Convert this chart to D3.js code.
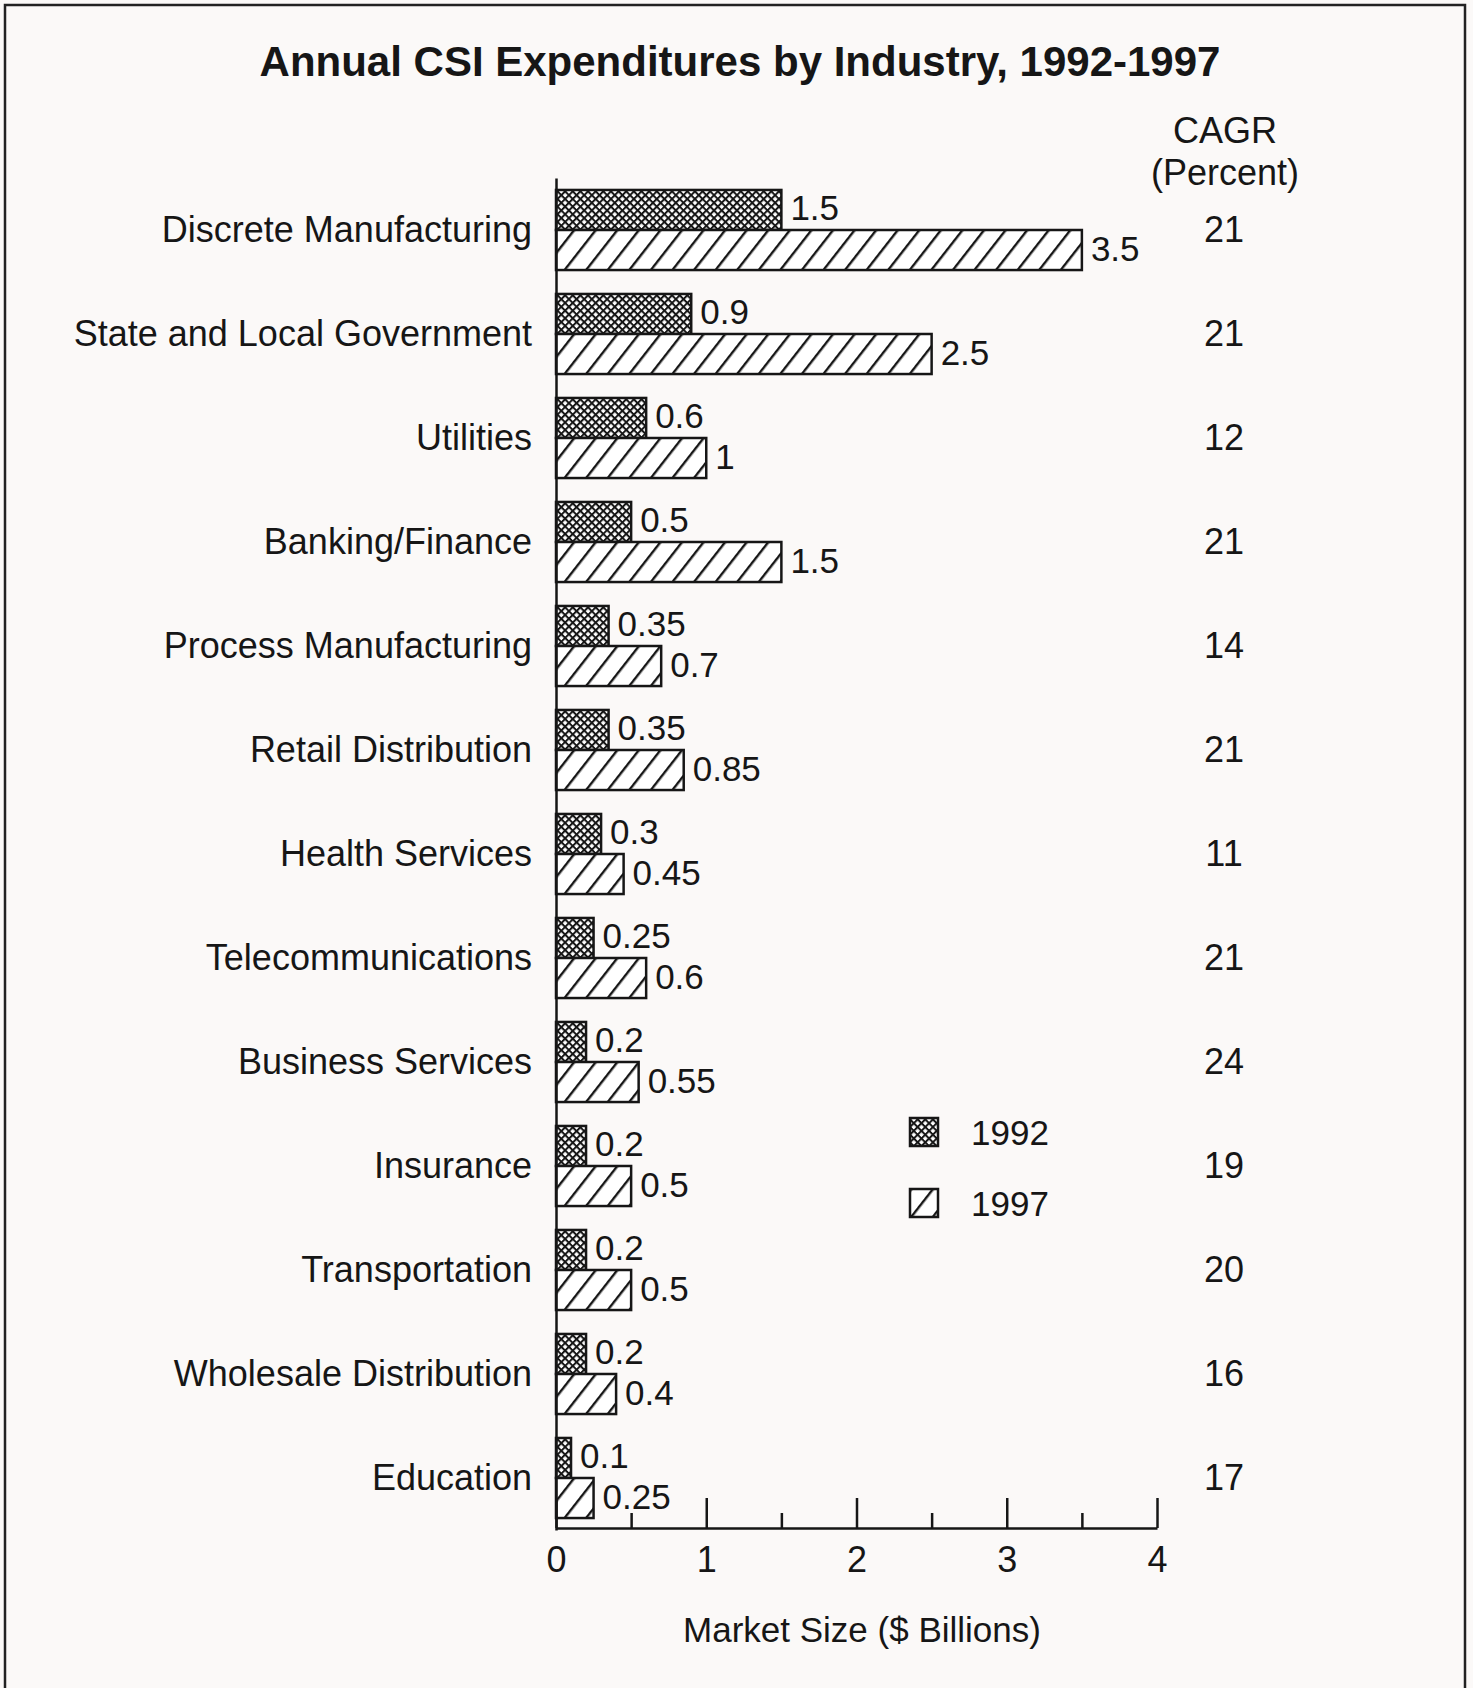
<!DOCTYPE html>
<html>
<head>
<meta charset="utf-8">
<script src="https://cdn.jsdelivr.net/npm/d3@7/dist/d3.min.js"></script>
<style>
  html, body { margin: 0; padding: 0; background: #fbf9f8; }
  svg text { font-family: "Liberation Sans", Arial, Helvetica, sans-serif; fill: #161616; }
</style>
</head>
<body>
<div id="chart"></div>
<script>
'use strict';

// industries, top to bottom
const industries = [
  'Discrete Manufacturing', 'State and Local Government', 'Utilities',
  'Banking/Finance', 'Process Manufacturing', 'Retail Distribution',
  'Health Services', 'Telecommunications', 'Business Services',
  'Insurance', 'Transportation', 'Wholesale Distribution', 'Education'
];
const years = ['1992', '1997'];
const values1992 = [1.5, 0.9, 0.6, 0.5, 0.35, 0.35, 0.3, 0.25, 0.2, 0.2, 0.2, 0.2, 0.1];
const values1997 = [3.5, 2.5, 1, 1.5, 0.7, 0.85, 0.45, 0.6, 0.55, 0.5, 0.5, 0.4, 0.25];
const cagr = [21, 21, 12, 21, 14, 21, 11, 21, 24, 19, 20, 16, 17];
const majorTicks = [0, 1, 2, 3, 4];
const minorTicks = [0.5, 1.5, 2.5, 3.5];

const width = 1473, height = 1688;
const ink = '#161616';

const svg = d3.select('#chart')
  .append('svg')
    .attr('width', width)
    .attr('height', height);

// page frame (open at the bottom)
svg.append('path')
    .attr('d', `M5,${height} V5 H1465 V${height}`)
    .attr('fill', 'none')
    .attr('stroke', '#222')
    .attr('stroke-width', 2.5);

// fill patterns
const defs = svg.append('defs');
const cross = defs.append('pattern')
    .attr('id', 'p1992')
    .attr('patternUnits', 'userSpaceOnUse')
    .attr('width', 5.4)
    .attr('height', 5.4)
    .attr('patternTransform', 'rotate(45)');
cross.append('rect').attr('width', 5.4).attr('height', 5.4).attr('fill', '#fff');
cross.append('rect').attr('width', 2).attr('height', 5.4).attr('fill', ink);
cross.append('rect').attr('width', 5.4).attr('height', 2).attr('fill', ink);

const hatch = defs.append('pattern')
    .attr('id', 'p1997')
    .attr('patternUnits', 'userSpaceOnUse')
    .attr('width', 17)
    .attr('height', 10)
    .attr('patternTransform', 'rotate(38)');
hatch.append('rect').attr('width', 17).attr('height', 10).attr('fill', '#fff');
hatch.append('rect').attr('width', 2.4).attr('height', 10).attr('fill', ink);

const fills = { '1992': 'url(#p1992)', '1997': 'url(#p1997)' };

// scales
const x = d3.scaleLinear().domain([0, 4]).range([556, 1157]);
const y = d3.scaleBand()
    .domain(industries)
    .range([178, 1530])
    .paddingInner(0.23)
    .paddingOuter(0.115);
const ySub = d3.scaleBand().domain(years).range([0, y.bandwidth()]);

// title
svg.append('text')
    .attr('x', 740)
    .attr('y', 76)
    .attr('text-anchor', 'middle')
    .attr('font-size', 42)
    .attr('font-weight', 'bold')
    .text('Annual CSI Expenditures by Industry, 1992-1997');

// CAGR header
svg.append('text')
    .attr('x', 1225).attr('y', 143)
    .attr('text-anchor', 'middle').attr('font-size', 36)
    .text('CAGR');
svg.append('text')
    .attr('x', 1225).attr('y', 185)
    .attr('text-anchor', 'middle').attr('font-size', 36)
    .text('(Percent)');

// bars
const rows = industries.map((name, i) => ({
  name,
  bars: [
    { year: '1992', value: values1992[i] },
    { year: '1997', value: values1997[i] }
  ],
  cagr: cagr[i]
}));

const group = svg.append('g')
  .selectAll('g')
  .data(rows)
  .join('g')
    .attr('transform', d => `translate(0, ${y(d.name)})`);

group.selectAll('rect')
  .data(d => d.bars)
  .join('rect')
    .attr('x', x(0))
    .attr('y', d => ySub(d.year))
    .attr('width', d => x(d.value) - x(0))
    .attr('height', ySub.bandwidth())
    .attr('fill', d => fills[d.year])
    .attr('stroke', ink)
    .attr('stroke-width', 2.5);

group.selectAll('text.value')
  .data(d => d.bars)
  .join('text')
    .attr('class', 'value')
    .attr('x', d => x(d.value) + 9)
    .attr('y', d => ySub(d.year) + ySub.bandwidth() / 2)
    .attr('dy', '0.3em')
    .attr('font-size', 35)
    .text(d => d.value);

group.append('text')
    .attr('x', 1224)
    .attr('y', y.bandwidth() / 2)
    .attr('dy', '0.32em')
    .attr('text-anchor', 'middle')
    .attr('font-size', 36)
    .text(d => d.cagr);

// y axis with industry names
const yAxis = svg.append('g')
    .attr('transform', `translate(${x(0)}, 0)`)
    .call(d3.axisLeft(y).tickSize(0).tickPadding(24));
yAxis.select('.domain').attr('stroke', ink).attr('stroke-width', 2.5);
yAxis.selectAll('text')
    .attr('font-size', 36)
    .attr('font-family', '"Liberation Sans", Arial, sans-serif')
    .attr('fill', ink);

// x axis, ticks pointing up
const axisY = 1528;
const xAxis = svg.append('g')
    .attr('transform', `translate(0, ${axisY})`)
    .call(d3.axisBottom(x).tickValues(majorTicks).tickSizeInner(-30).tickSizeOuter(0)
      .tickPadding(18).tickFormat(d3.format('d')));
xAxis.select('.domain').attr('stroke', ink).attr('stroke-width', 2.5);
xAxis.selectAll('line').attr('stroke', ink).attr('stroke-width', 2.5);
xAxis.selectAll('text')
    .attr('font-size', 36)
    .attr('font-family', '"Liberation Sans", Arial, sans-serif')
    .attr('fill', ink);

const xMinor = svg.append('g')
    .attr('transform', `translate(0, ${axisY})`)
    .call(d3.axisBottom(x).tickValues(minorTicks).tickSizeInner(-15).tickSizeOuter(0).tickFormat(''));
xMinor.select('.domain').remove();
xMinor.selectAll('line').attr('stroke', ink).attr('stroke-width', 2.5);

svg.append('text')
    .attr('x', 862)
    .attr('y', 1642)
    .attr('text-anchor', 'middle')
    .attr('font-size', 35)
    .text('Market Size ($ Billions)');

// legend
const legend = svg.append('g')
    .attr('transform', 'translate(910, 1118)');
const legendItem = legend.selectAll('g')
  .data(years)
  .join('g')
    .attr('transform', (d, i) => `translate(0, ${i * 71})`);
legendItem.append('rect')
    .attr('width', 28)
    .attr('height', 28)
    .attr('fill', d => fills[d])
    .attr('stroke', ink)
    .attr('stroke-width', 2.5);
legendItem.append('text')
    .attr('x', 61)
    .attr('y', 14)
    .attr('dy', '0.36em')
    .attr('font-size', 35)
    .text(d => d);
</script>
</body>
</html>
